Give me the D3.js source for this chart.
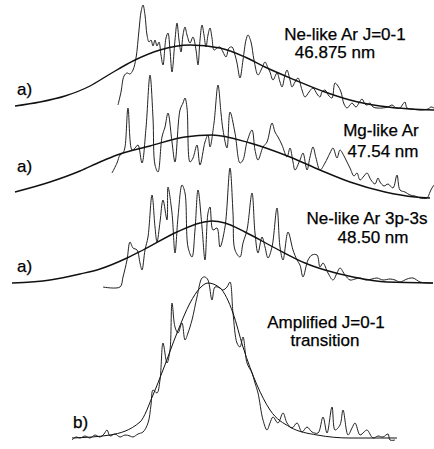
<!DOCTYPE html>
<html>
<head>
<meta charset="utf-8">
<script src="https://cdn.jsdelivr.net/npm/d3@7"></script>
<style>
  body { margin: 0; background: #fff; }
  text { font-family: "Liberation Sans", Arial, sans-serif; fill: #000; stroke: #000; stroke-width: 0.25px; }
</style>
</head>
<body>
<svg></svg>
<script>
// spectra: [detector channel, counts above panel baseline]
const traceNeJ01 = [[118,5],[121,18],[124,34],[127,37],[130,36],[133,40],[136,52],[139,80],[141,98],[143,105],[145,95],[147,75],[149,68],[151,70],[153,64],[155,70],[157,64],[159,68],[161,55],[163,45],[166,72],[168,77],[170,60],[172,38],[175,70],[177,87],[179,70],[181,58],[183,75],[185,83],[187,75],[190,67],[193,73],[196,60],[198,45],[200,70],[202,85],[204,75],[206,63],[208,75],[210,82],[212,72],[214,60],[217,62],[220,63],[223,58],[226,53],[229,62],[232,63],[235,55],[237,47],[240,32],[243,50],[246,70],[248,75],[251,68],[254,50],[258,35],[262,42],[265,48],[268,42],[270,38],[273,30],[277,37],[280,28],[282,23],[285,35],[287,40],[290,30],[292,23],[295,28],[298,32],[302,20],[305,13],[309,18],[313,22],[317,16],[320,13],[322,18],[325,20],[329,14],[332,12],[335,27],[338,24],[341,18],[344,6],[347,2],[350,5],[352,7],[356,3],[359,7],[362,11],[365,6],[367,5],[370,7],[373,3],[377,2],[382,2],[388,3],[392,5],[396,2],[400,2],[403,6],[405,8],[407,2],[412,1],[420,0],[428,1],[431,3],[434,2]];
const fitNeJ01 = [[15,4],[40,8],[65,14],[90,24],[110,36],[135,50],[160,60],[190,65],[220,62],[245,53],[265,43],[295,30],[325,18],[350,10],[380,4],[410,1],[434,0]];

const traceMg = [[112,25],[117,35],[120,43],[123,45],[125,51],[128,90],[132,48],[135,50],[138,53],[142,35],[146,70],[150,123],[153,80],[155,33],[158,26],[162,61],[165,71],[168,85],[172,56],[175,36],[180,88],[183,95],[185,100],[187,90],[190,36],[193,40],[197,53],[200,33],[205,56],[208,63],[210,51],[214,75],[218,113],[221,85],[223,68],[227,50],[230,86],[235,65],[240,35],[243,38],[247,56],[252,68],[255,48],[258,38],[263,51],[267,56],[272,75],[275,66],[278,61],[282,53],[287,41],[290,50],[293,36],[295,28],[300,38],[303,45],[307,28],[310,41],[313,51],[316,40],[320,28],[325,35],[330,45],[333,50],[337,40],[340,48],[344,42],[347,36],[350,30],[354,22],[357,25],[360,18],[364,22],[367,25],[371,18],[375,14],[378,20],[380,16],[384,12],[388,14],[393,10],[397,23],[400,8],[405,6],[410,3],[415,2],[420,0],[427,0],[430,6],[432,10],[434,13]];
const fitMg = [[15,6],[50,16],[80,27],[100,36],[117,43],[150,52],[185,61],[212,63],[250,55],[290,41],[320,28],[350,16],[385,6],[415,1],[430,0]];

const traceNe3p3s = [[103,-2],[120,-2],[123,8],[127,25],[130,43],[133,37],[137,35],[140,22],[142,15],[145,35],[148,48],[152,90],[155,58],[157,43],[160,63],[163,85],[167,65],[168,98],[172,72],[175,32],[178,68],[182,100],[185,92],[188,38],[192,28],[195,55],[198,95],[202,58],[205,25],[208,72],[210,78],[213,55],[217,57],[220,38],[225,58],[230,117],[233,72],[235,35],[240,28],[243,42],[247,55],[252,92],[255,52],[258,32],[262,48],[265,38],[268,27],[272,38],[277,77],[280,38],[283,25],[288,53],[293,35],[297,25],[300,20],[303,8],[308,25],[312,30],[317,30],[320,18],[323,22],[328,12],[333,5],[337,12],[340,17],[345,10],[350,5],[355,6],[360,7],[366,5],[372,6],[377,7],[383,5],[390,6],[395,5],[400,3],[407,6],[413,7],[420,3],[427,2],[433,2]];
const fitNe3p3s = [[12,2],[50,5],[80,11],[100,16],[127,27],[143,35],[177,53],[200,62],[212,64],[225,62],[245,53],[275,37],[305,22],[325,15],[353,8],[387,3],[433,2]];

const traceAmp = [[72,0],[76,3],[80,2],[85,4],[90,2],[95,5],[100,3],[104,6],[107,10],[110,4],[115,6],[120,3],[125,5],[130,4],[133,3],[138,6],[143,8],[148,17],[151,35],[153,50],[157,47],[160,60],[163,97],[167,77],[170,90],[172,137],[175,113],[178,107],[182,117],[185,100],[188,107],[192,120],[197,143],[202,162],[205,163],[208,160],[212,140],[215,153],[220,152],[223,150],[227,153],[230,158],[233,127],[237,97],[240,93],[243,103],[247,77],[252,67],[255,57],[258,47],[263,20],[267,10],[270,17],[273,23],[278,17],[283,27],[287,17],[292,12],[297,17],[302,8],[307,13],[312,8],[318,7],[323,23],[327,7],[332,33],[335,10],[340,15],[343,30],[348,5],[352,12],[355,17],[360,5],[364,8],[367,10],[373,2],[378,4],[383,3],[388,6],[390,0],[395,0]];
const fitAmp = [[72,2],[110,5],[140,18],[153,45],[163,70],[177,107],[190,137],[200,152],[208,157],[220,152],[233,127],[243,93],[257,55],[270,30],[290,13],[317,5],[350,2],[397,2]];

const panelLabels = ["a)", "a)", "a)", "b)"];
const titles = [
  ["Ne-like Ar J=0-1", "46.875 nm"],
  ["Mg-like Ar", "47.54 nm"],
  ["Ne-like Ar 3p-3s", "48.50 nm"],
  ["Amplified J=0-1", "transition"]
];

const W = 434, H = 449;
const svg = d3.select("svg").attr("width", W).attr("height", H);

const x = d3.scaleLinear().domain([0, 434]).range([0, 434]);

const panels = [
  { trace: traceNeJ01, fit: fitNeJ01, base: 110, lab: [17, 95], tx: [345, 335], ty: [40, 58], fitW: 1.4 },
  { trace: traceMg, fit: fitMg, base: 198, lab: [17, 172], tx: [381, 383], ty: [136, 157], fitW: 1.4 },
  { trace: traceNe3p3s, fit: fitNe3p3s, base: 285, lab: [17, 272], tx: [367, 373], ty: [224, 243], fitW: 1.4 },
  { trace: traceAmp, fit: fitAmp, base: 440, lab: [73, 428], tx: [326, 325], ty: [328, 346], fitW: 1.0 }
];

panels.forEach(function(p, i) {
  const y = d3.scaleLinear().domain([0, 100]).range([p.base, p.base - 100]);

  const line = d3.line()
    .x(function(d) { return x(d[0]); })
    .y(function(d) { return y(d[1]); })
    .curve(d3.curveCatmullRom.alpha(0.5));

  const fitLine = d3.line()
    .x(function(d) { return x(d[0]); })
    .y(function(d) { return y(d[1]); })
    .curve(d3.curveMonotoneX);

  svg.append("path")
    .datum(p.trace)
    .attr("fill", "none")
    .attr("stroke", "#222")
    .attr("stroke-width", 1)
    .attr("stroke-linejoin", "round")
    .attr("d", line);

  svg.append("path")
    .datum(p.fit)
    .attr("fill", "none")
    .attr("stroke", "#111")
    .attr("stroke-width", p.fitW)
    .attr("d", fitLine);

  svg.append("text")
    .attr("x", p.lab[0])
    .attr("y", p.lab[1])
    .style("font-size", "17px")
    .text(panelLabels[i]);

  titles[i].forEach(function(t, j) {
    svg.append("text")
      .attr("x", p.tx[j])
      .attr("y", p.ty[j])
      .attr("text-anchor", "middle")
      .style("font-size", "17px")
      .text(t);
  });
});
</script>
</body>
</html>
